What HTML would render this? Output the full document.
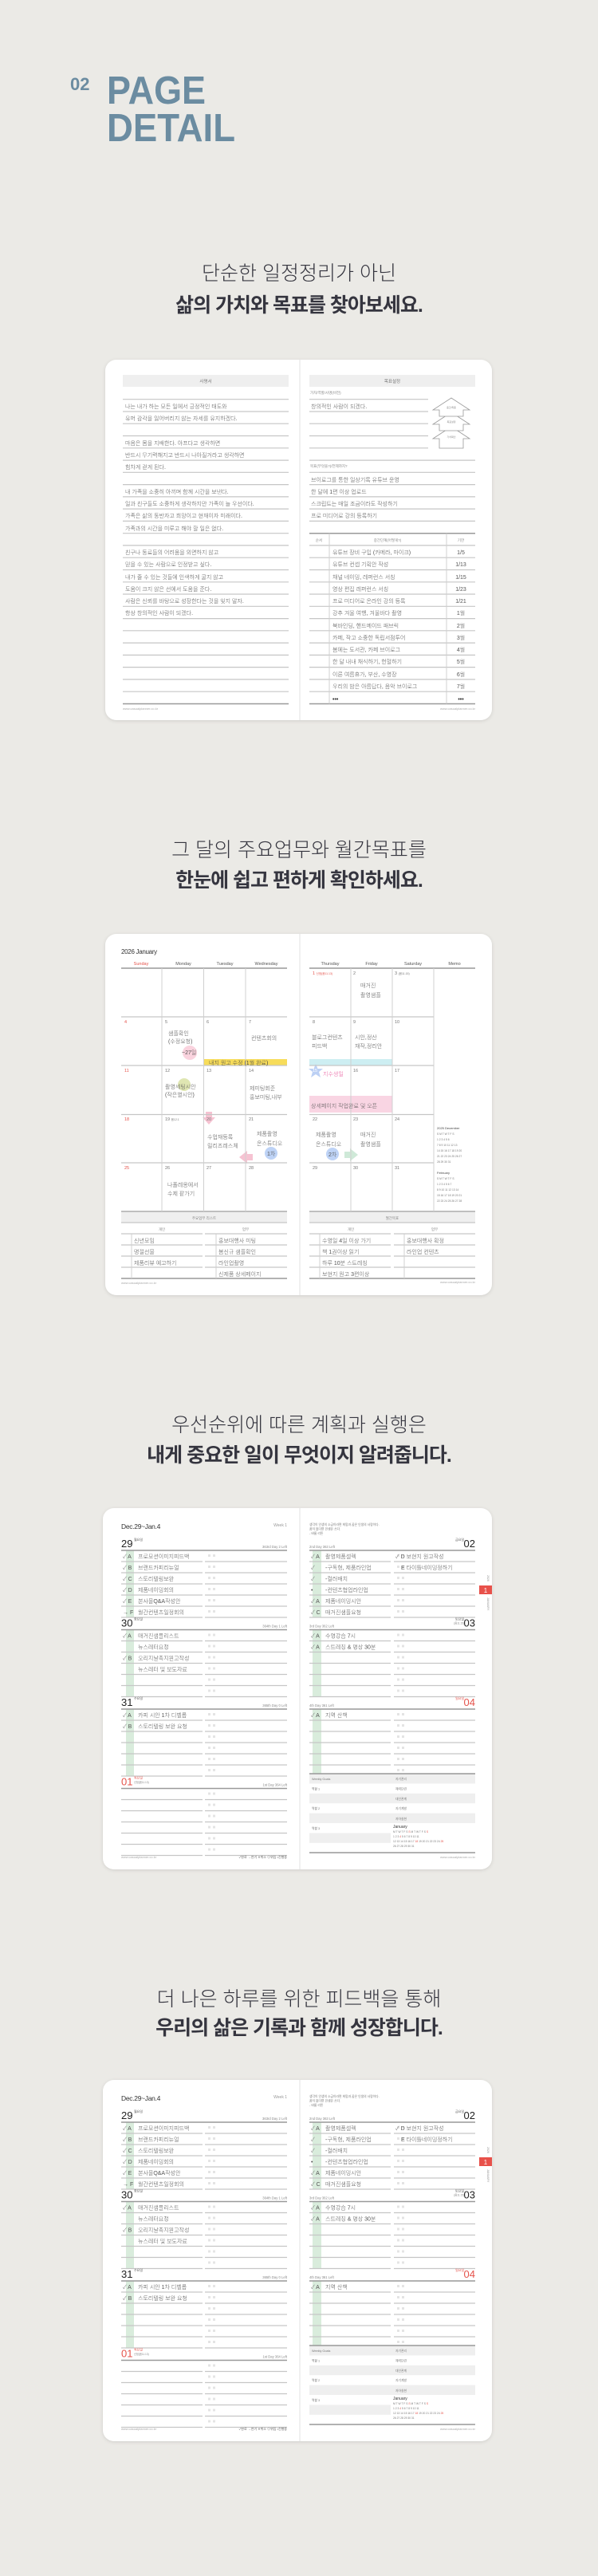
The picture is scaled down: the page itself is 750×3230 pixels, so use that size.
<!DOCTYPE html>
<html><head><meta charset="utf-8">
<style>
html,body{margin:0;padding:0;background:#ebeae6;}
svg{display:block}
text{font-family:"Liberation Sans","Noto Sans CJK KR",sans-serif;}
.hw{font-family:"Noto Sans CJK KR",sans-serif;font-size:7px;fill:#555;font-weight:300}
.s{font-size:4.5px;fill:#888}
.dn{font-size:5.5px;fill:#777}
.ln{stroke:#c6c6c6;stroke-width:1.2;fill:none}
.tk{stroke:#999;stroke-width:1.5;fill:none}
.vl{stroke:#d0d0d0;stroke-width:1;fill:none}
</style></head>
<body>
<svg width="750" height="3230" viewBox="0 0 750 3230" xmlns="http://www.w3.org/2000/svg">
<defs>
<filter id="sh" x="-5%" y="-5%" width="110%" height="110%"><feDropShadow dx="0" dy="1" stdDeviation="2" flood-color="#000" flood-opacity="0.12"/></filter>
<g id="rowsL">
<path class="tk" d="M152 0H360"/>
<path class="ln" d="M152 14H254M257 14H360M152 28H254M257 28H360M152 42H254M257 42H360M152 56H254M257 56H360M152 70H254M257 70H360M152 84H254M257 84H360"/>
<g fill="#e4e4e4"><rect x="261" y="5" width="3" height="3"/><rect x="267" y="5" width="3" height="3"/><rect x="261" y="19" width="3" height="3"/><rect x="267" y="19" width="3" height="3"/><rect x="261" y="33" width="3" height="3"/><rect x="267" y="33" width="3" height="3"/><rect x="261" y="47" width="3" height="3"/><rect x="267" y="47" width="3" height="3"/><rect x="261" y="61" width="3" height="3"/><rect x="267" y="61" width="3" height="3"/><rect x="261" y="75" width="3" height="3"/><rect x="267" y="75" width="3" height="3"/></g>
</g>
<g id="rowsR">
<path class="tk" d="M388 0H596"/>
<path class="ln" d="M388 14H490M494 14H596M388 28H490M494 28H596M388 42H490M494 42H596M388 56H490M494 56H596M388 70H490M494 70H596M388 84H490M494 84H596"/>
<g fill="#e4e4e4"><rect x="498" y="5" width="3" height="3"/><rect x="504" y="5" width="3" height="3"/><rect x="498" y="19" width="3" height="3"/><rect x="504" y="19" width="3" height="3"/><rect x="498" y="33" width="3" height="3"/><rect x="504" y="33" width="3" height="3"/><rect x="498" y="47" width="3" height="3"/><rect x="504" y="47" width="3" height="3"/><rect x="498" y="61" width="3" height="3"/><rect x="504" y="61" width="3" height="3"/><rect x="498" y="75" width="3" height="3"/><rect x="504" y="75" width="3" height="3"/></g>
</g>
</defs>
<rect width="750" height="3230" fill="#ebeae6"/>

<!-- Title -->
<text x="88" y="113" font-size="22" font-weight="700" fill="#6b8ca1">02</text>
<text x="134" y="130" font-size="49" font-weight="700" fill="#6b8ca1" textLength="124" lengthAdjust="spacingAndGlyphs">PAGE</text>
<text x="134" y="177" font-size="49" font-weight="700" fill="#6b8ca1" textLength="161" lengthAdjust="spacingAndGlyphs">DETAIL</text>

<!-- Headlines -->
<g text-anchor="middle" font-size="25" fill="#35353f">
<text x="375" y="351" font-weight="300">단순한 일정정리가 아닌</text>
<text x="375" y="391" font-weight="700" letter-spacing="-1">삶의 가치와 목표를 찾아보세요.</text>
<text x="375" y="1074" font-weight="300">그 달의 주요업무와 월간목표를</text>
<text x="375" y="1112" font-weight="700" letter-spacing="-1">한눈에 쉽고 편하게 확인하세요.</text>
<text x="375" y="1795" font-weight="300">우선순위에 따른 계획과 실행은</text>
<text x="375" y="1833" font-weight="700" letter-spacing="-1">내게 중요한 일이 무엇이지 알려줍니다.</text>
<text x="375" y="2515" font-weight="300">더 나은 하루를 위한 피드백을 통해</text>
<text x="375" y="2551" font-weight="700" letter-spacing="-1">우리의 삶은 기록과 함께 성장합니다.</text>
</g>

<!-- ================= CARD 1 ================= -->
<rect x="132" y="451" width="485" height="452" rx="14" fill="#fff" filter="url(#sh)"/>
<line x1="376" y1="451" x2="376" y2="903" stroke="#e2e2e2"/>
<rect x="154" y="470" width="208" height="15" fill="#efefef"/>
<text x="258" y="480" font-size="5.5" fill="#777" text-anchor="middle">사명서</text>
<path class="ln" d="M154 500.7H362M154 516H362M154 531.2H362M154 546.5H362M154 561.8H362M154 577.1H362M154 592.3H362M154 607.6H362M154 622.9H362M154 638.1H362M154 653.4H362M154 668.7H362M154 683.9H362M154 699.2H362M154 714.5H362M154 729.8H362M154 745H362M154 760.3H362M154 775.6H362M154 790.8H362M154 806.1H362M154 821.4H362M154 836.6H362M154 851.9H362M154 867.2H362"/>
<path class="tk" d="M154 882.5H362"/>
<g class="hw">
<text x="157" y="512">나는 내가 하는 모든 일에서 긍정적인 태도와</text>
<text x="157" y="527">유머 감각을 잃어버리지 않는 자세를 유지하겠다.</text>
<text x="157" y="558">마음은 몸을 지배한다. 아프다고 생각하면</text>
<text x="157" y="573">반드시 무기력해지고 반드시 나아질거라고 생각하면</text>
<text x="157" y="588">힘차게 걷게 된다.</text>
<text x="157" y="619">내 가족을 소중히 아끼며 함께 시간을 보낸다.</text>
<text x="157" y="634">일과 친구들도 소중하게 생각하지만 가족이 늘 우선이다.</text>
<text x="157" y="649">가족은 삶의 동반자고 희망이고 현재이자 미래이다.</text>
<text x="157" y="665">가족과의 시간을 미루고 해야 할 일은 없다.</text>
<text x="157" y="695">친구나 동료들의 어려움을 외면하지 않고</text>
<text x="157" y="710">믿을 수 있는 사람으로 인정받고 싶다.</text>
<text x="157" y="726">내가 줄 수 있는 것들에 인색하게 굴지 않고</text>
<text x="157" y="741">도움이 크지 않은 선에서 도움을 준다.</text>
<text x="157" y="756">사람은 신뢰를 바탕으로 성장한다는 것을 잊지 말자.</text>
<text x="157" y="771">항상 창의적인 사람이 되겠다.</text>
</g>
<text x="154" y="890" font-size="4" fill="#aaa">www.casualplanner.co.kr</text>

<rect x="388" y="470" width="208" height="15" fill="#efefef"/>
<text x="492" y="480" font-size="5.5" fill="#777" text-anchor="middle">목표설정</text>
<text x="389" y="494" class="s">가치/역할/사명(비전)</text>
<path class="ln" d="M388 500.7H537M388 516H537M388 531.2H537M388 546.5H537M388 561.8H537M388 577.1H596M388 592.3H596M388 607.6H596M388 622.9H596M388 638.1H596M388 653.4H596M388 683.9H596M388 699.2H596M388 714.5H596M388 729.8H596M388 745H596M388 760.3H596M388 775.6H596M388 790.8H596M388 806.1H596M388 821.4H596M388 836.6H596M388 851.9H596M388 867.2H596"/>
<path class="tk" d="M388 668.7H596M388 882.5H596"/>
<path class="vl" d="M413 668.7V882.5M560 668.7V882.5"/>
<g fill="#fff" stroke="#999" stroke-width="0.8">
<polygon points="566,535 589,550 581,550 581,562 551,562 551,550 543,550"/>
<polygon points="566,517 589,532 581,532 581,540 551,540 551,532 543,532"/>
<polygon points="566,499 589,514 581,514 581,522 551,522 551,514 543,514"/>
</g>
<g font-size="3" fill="#888" text-anchor="middle"><text x="566" y="512">중간/최종</text><text x="566" y="530">목표설정</text><text x="566" y="549">가치확인</text></g>
<text x="389" y="586" class="s">목표(무엇을?)/언제까지?</text>
<g class="hw">
<text x="390" y="512">창의적인 사람이 되겠다.</text>
<text x="390" y="604">브이로그를 통한 일상기록 유튜브 운영</text>
<text x="390" y="619">한 달에 1편 이상 업로드</text>
<text x="390" y="634">스크립트는 매일 조금이라도 작성하기</text>
<text x="390" y="649">프로 미디어로 강의 등록하기</text>
</g>
<g class="s" text-anchor="middle"><text x="400" y="679">순서</text><text x="486" y="679">중간단계(어떻게?)</text><text x="578" y="679">기한</text></g>
<g class="hw">
<text x="417" y="695">유튜브 장비 구입 (카메라, 마이크)</text>
<text x="417" y="710">유튜브 컨셉 기획안 작성</text>
<text x="417" y="726">채널 네이밍, 레퍼런스 서칭</text>
<text x="417" y="741">영상 편집 레퍼런스 서칭</text>
<text x="417" y="756">프로 미디어로 온라인 강의 등록</text>
<text x="417" y="771">강추 겨울 여행, 겨울바다 촬영</text>
<text x="417" y="787">북바인딩, 핸드메이드 패브릭</text>
<text x="417" y="802">카페, 작고 소중한 독립서점투어</text>
<text x="417" y="817">봄에는 도서관, 카페 브이로그</text>
<text x="417" y="832">한 달 내내 채식하기, 헌혈하기</text>
<text x="417" y="848">이른 여름휴가, 부산, 수영장</text>
<text x="417" y="863">우리의 밤은 아름답다, 음악 브이로그</text>
<text x="417" y="879" font-weight="700" fill="#333">•••</text>
</g>
<g class="hw" text-anchor="middle">
<text x="578" y="695">1/5</text><text x="578" y="710">1/13</text><text x="578" y="726">1/15</text><text x="578" y="741">1/23</text><text x="578" y="756">1/21</text><text x="578" y="771">1월</text><text x="578" y="787">2월</text><text x="578" y="802">3월</text><text x="578" y="817">4월</text><text x="578" y="832">5월</text><text x="578" y="848">6월</text><text x="578" y="863">7월</text><text x="578" y="879" font-weight="700" fill="#333">•••</text>
</g>
<text x="596" y="890" font-size="4" fill="#aaa" text-anchor="end">www.casualplanner.co.kr</text>

<!-- ================= CARD 2 ================= -->
<rect x="132" y="1171" width="485" height="453" rx="14" fill="#fff" filter="url(#sh)"/>
<line x1="376" y1="1171" x2="376" y2="1624" stroke="#e2e2e2"/>
<text x="152" y="1196" font-size="8" fill="#333" letter-spacing="-0.3">2026 January</text>
<g font-size="5.5" fill="#555" text-anchor="middle">
<text x="177" y="1210" fill="#e5534b">Sunday</text><text x="230" y="1210">Monday</text><text x="282" y="1210">Tuesday</text><text x="334" y="1210">Wednesday</text>
<text x="414" y="1210">Thursday</text><text x="466" y="1210">Friday</text><text x="518" y="1210">Saturday</text><text x="570" y="1210">Memo</text>
</g>
<!-- highlights -->
<rect x="255.5" y="1328" width="104.5" height="8" fill="#f7dc5a"/>
<rect x="388" y="1328" width="104" height="8" fill="#cdeef2"/>
<rect x="388" y="1374" width="104" height="21" fill="#f9d5e3"/>
<circle cx="238" cy="1320" r="9" fill="#fad3de"/>
<circle cx="231" cy="1360" r="8" fill="#dfe6b2"/>
<circle cx="340" cy="1446" r="8" fill="#bed3f6"/>
<circle cx="417" cy="1447" r="8" fill="#bed3f6"/>
<polygon points="258,1394 266,1394 266,1401 270,1401 262,1410 254,1401 258,1401" fill="#f6c3d2"/>
<polygon points="317,1447 310,1447 310,1443 300,1451 310,1459 310,1455 317,1455" fill="#f6c3d2"/>
<polygon points="432,1444 439,1444 439,1440 449,1448 439,1456 439,1452 432,1452" fill="#cfe9d8"/>
<polygon points="396,1334 398.5,1340 405,1340 400,1344 402,1351 396,1347 390,1351 392,1344 387,1340 393.5,1340" fill="#bcd0f4"/>
<path class="tk" d="M152 1214H360M388 1214H596"/>
<path class="ln" d="M152 1275H360M152 1336H360M152 1397.5H360M152 1458H360M388 1275H544M388 1336H544M388 1397.5H544M388 1458H544"/>
<path stroke="#999" stroke-width="1.2" d="M152 1519H360M388 1519H596"/>
<path class="vl" d="M203 1214V1519M255.5 1214V1519M308 1214V1519M440 1214V1519M492 1214V1519M544 1214V1519"/>
<g class="dn">
<text x="156" y="1283" fill="#e5534b">4</text><text x="207" y="1283">5</text><text x="259" y="1283">6</text><text x="312" y="1283">7</text>
<text x="156" y="1344" fill="#e5534b">11</text><text x="207" y="1344">12</text><text x="259" y="1344">13</text><text x="312" y="1344">14</text>
<text x="156" y="1405" fill="#e5534b">18</text><text x="207" y="1405">19 <tspan font-size="3.5">음12.1</tspan></text><text x="259" y="1405">20</text><text x="312" y="1405">21</text>
<text x="156" y="1466" fill="#e5534b">25</text><text x="207" y="1466">26</text><text x="259" y="1466">27</text><text x="312" y="1466">28</text>
<text x="392" y="1222" fill="#e5534b">1 <tspan font-size="3.5">신정(음11.13)</tspan></text><text x="443" y="1222">2</text><text x="495" y="1222">3 <tspan font-size="3.5">(음11.15)</tspan></text>
<text x="392" y="1283">8</text><text x="443" y="1283">9</text><text x="495" y="1283">10</text>
<text x="392" y="1344" fill="#fff">15</text><text x="443" y="1344">16</text><text x="495" y="1344">17</text>
<text x="392" y="1405">22</text><text x="443" y="1405">23</text><text x="495" y="1405">24</text>
<text x="392" y="1466">29</text><text x="443" y="1466">30</text><text x="495" y="1466">31</text>
</g>
<g class="hw" font-size="6.5">
<text x="211" y="1298">샘플확인</text><text x="211" y="1308">(수정요청)</text><text x="228" y="1322">~27일</text>
<text x="315" y="1304">컨텐츠회의</text>
<text x="262" y="1335" fill="#444">내지 원고 수정 (1월 완료)</text>
<text x="207" y="1365">촬영세팅시안</text><text x="207" y="1375">(작은별시안)</text>
<text x="313" y="1367">제미팅회준</text><text x="313" y="1378">홍보미팅,내부</text>
<text x="260" y="1428">수업재등록</text><text x="260" y="1439">릴리즈레스체</text>
<text x="322" y="1424">제품촬영</text><text x="322" y="1436">온스튜디오</text><text x="335" y="1449">1차</text>
<text x="210" y="1488">나폴레옹에서</text><text x="210" y="1499">수제 팥가기</text>
<text x="452" y="1238">매거진</text><text x="452" y="1250">촬영샘플</text>
<text x="391" y="1303">블로그컨텐츠</text><text x="391" y="1314">피드백</text>
<text x="445" y="1303">시안,정산</text><text x="445" y="1314">재작,정리안</text>
<text x="405" y="1349" fill="#e8559a">지수생일</text>
<text x="390" y="1389">상세페이지 작업완료 및 오픈</text>
<text x="396" y="1425">제품촬영</text><text x="396" y="1437">온스튜디오</text><text x="412" y="1450">2차</text>
<text x="452" y="1425">매거진</text><text x="452" y="1437">촬영샘플</text>
</g>
<g font-size="3.3" fill="#777">
<text x="548" y="1416" font-size="4" fill="#444">2025 December</text>
<text x="548" y="1423">S  M  T  W  T  F  S</text>
<text x="548" y="1430">      1  2  3  4  5  6</text>
<text x="548" y="1437">7  8  9 10 11 12 13</text>
<text x="548" y="1444">14 15 16 17 18 19 20</text>
<text x="548" y="1451">21 22 23 24 25 26 27</text>
<text x="548" y="1458">28 29 30 31</text>
<text x="548" y="1472" font-size="4" fill="#444">February</text>
<text x="548" y="1479">S  M  T  W  T  F  S</text>
<text x="548" y="1486">1  2  3  4  5  6  7</text>
<text x="548" y="1493">8  9 10 11 12 13 14</text>
<text x="548" y="1500">15 16 17 18 19 20 21</text>
<text x="548" y="1507">22 23 24 25 26 27 28</text>
</g>
<rect x="152" y="1520" width="208" height="13" fill="#efefef"/>
<rect x="388" y="1520" width="208" height="13" fill="#efefef"/>
<g class="s" text-anchor="middle">
<text x="256" y="1529">주요업무 리스트</text><text x="203" y="1543">개인</text><text x="308" y="1543">업무</text>
<text x="492" y="1529">월간목표</text><text x="440" y="1543">개인</text><text x="545" y="1543">업무</text>
</g>
<path class="ln" d="M152 1533H360M152 1547H254M257 1547H360M152 1561H254M257 1561H360M152 1575H254M257 1575H360M152 1589H254M257 1589H360M388 1533H596M388 1547H490M494 1547H596M388 1561H490M494 1561H596M388 1575H490M494 1575H596M388 1589H490M494 1589H596"/>
<path class="tk" d="M152 1603H360M388 1603H596"/>
<path class="vl" d="M165 1547V1603M271 1547V1603M401 1547V1603M507 1547V1603"/>
<g class="hw">
<text x="168" y="1558">신년모임</text><text x="168" y="1572">명절선물</text><text x="168" y="1586">제품리뷰 예고하기</text>
<text x="274" y="1558">홍보대행사 미팅</text><text x="274" y="1572">봄신규 샘플확인</text><text x="274" y="1586">라인업촬영</text><text x="274" y="1600">신제품 상세페이지</text>
<text x="404" y="1558">수영일 4일 이상 가기</text><text x="404" y="1572">책 1권이상 읽기</text><text x="404" y="1586">하루 10분 스트레칭</text><text x="404" y="1600">보현지 원고 3편이상</text>
<text x="510" y="1558">홍보대행사 확정</text><text x="510" y="1572">라인업 컨텐츠</text>
</g>
<text x="152" y="1610" font-size="4" fill="#aaa">www.casualplanner.co.kr</text>
<text x="596" y="1609" font-size="4" fill="#aaa" text-anchor="end">www.casualplanner.co.kr</text>

<!-- ================= CARD 3 & 4 (weekly) ================= -->
<g id="wk3">
<rect x="129" y="1891" width="488" height="453" rx="14" fill="#fff" filter="url(#sh)"/>
<line x1="376" y1="1891" x2="376" y2="2344" stroke="#e2e2e2"/>
<rect x="158" y="1944" width="10" height="84" fill="#d9ecdc"/>
<rect x="158" y="2043.5" width="10" height="84" fill="#d9ecdc"/>
<rect x="158" y="2143" width="10" height="84" fill="#d9ecdc"/>
<rect x="392" y="1944" width="11" height="84" fill="#d9ecdc"/>
<rect x="392" y="2043.5" width="11" height="84" fill="#d9ecdc"/>
<rect x="392" y="2143" width="11" height="84" fill="#d9ecdc"/>
<use href="#rowsL" y="1944"/><use href="#rowsL" y="2043.5"/><use href="#rowsL" y="2143"/><use href="#rowsL" y="2242.5"/>
<use href="#rowsR" y="1944"/><use href="#rowsR" y="2043.5"/><use href="#rowsR" y="2143"/>
<text x="152" y="1917" font-size="8.5" fill="#333" letter-spacing="-0.3">Dec.29~Jan.4</text>
<text x="360" y="1914" font-size="5" fill="#999" text-anchor="end">Week 1</text>
<g font-size="13" fill="#222">
<text x="152" y="1940">29</text><text x="152" y="2039.5">30</text><text x="152" y="2139">31</text><text x="152" y="2238.5" fill="#e5534b">01</text>
<text x="596" y="1940" text-anchor="end">02</text><text x="596" y="2039.5" text-anchor="end">03</text><text x="596" y="2139" text-anchor="end" fill="#e5534b">04</text>
</g>
<g font-size="4" fill="#555">
<text x="168" y="1932">월요일</text><text x="168" y="2031.5">화요일</text><text x="168" y="2131">수요일</text><text x="168" y="2230.5" fill="#e5534b">목요일</text><text x="168" y="2236" font-size="3.2" fill="#888">신정(음11.13)</text>
<text x="582" y="1932" text-anchor="end">금요일</text><text x="582" y="2031.5" text-anchor="end">토요일</text><text x="582" y="2036.5" text-anchor="end" font-size="3.2" fill="#888">(음11.15)</text><text x="582" y="2131" text-anchor="end" fill="#e5534b">일요일</text>
</g>
<g font-size="4.2" fill="#888">
<text x="360" y="1941" text-anchor="end">363rd Day 2 Left</text><text x="360" y="2040.5" text-anchor="end">364th Day 1 Left</text><text x="360" y="2140" text-anchor="end">365th Day 0 Left</text><text x="360" y="2239.5" text-anchor="end">1st Day 364 Left</text>
<text x="388" y="1941">2nd Day 363 Left</text><text x="388" y="2040.5">3rd Day 362 Left</text><text x="388" y="2140">4th Day 361 Left</text>
</g>
<g font-size="3.8" fill="#777">
<text x="388" y="1913">생각이 인생의 소금이라면 희망과 꿈은 인생의 사랑이다.</text>
<text x="388" y="1918.5">꿈이 없다면 인생은 쓰다.</text>
<text x="388" y="1924">- 바룸 리튼</text>
</g>
<g class="hw" font-size="6.8">
<text x="154" y="1954">✓ A</text><text x="173" y="1954">프로모션이미지피드백</text>
<text x="154" y="1968">✓ B</text><text x="173" y="1968">브랜드카피리뉴얼</text>
<text x="154" y="1982">✓ C</text><text x="173" y="1982">스토리텔링보완</text>
<text x="154" y="1996">✓ D</text><text x="173" y="1996">제품네이밍회의</text>
<text x="154" y="2010">✓ E</text><text x="173" y="2010">본사몰Q&amp;A작성안</text>
<text x="154" y="2024">→ F</text><text x="173" y="2024">월간컨텐츠일정회의</text>
<text x="154" y="2053.5">✓ A</text><text x="173" y="2053.5">매거진샘플리스트</text>
<text x="173" y="2067.5">뉴스레터요청</text>
<text x="154" y="2081.5">✓ B</text><text x="173" y="2081.5">오리지날촉지원고작성</text>
<text x="173" y="2095.5">뉴스레터 및 보도자료</text>
<text x="154" y="2153">✓ A</text><text x="173" y="2153">카피 시안 1차 디벨롭</text>
<text x="154" y="2167">✓ B</text><text x="173" y="2167">스토리텔링 보완 요청</text>
<text x="390" y="1954">✓ A</text><text x="408" y="1954">촬영제품셀렉</text>
<text x="390" y="1968">✓</text><text x="408" y="1968">-구독형, 제품라인업</text>
<text x="390" y="1982">✓</text><text x="408" y="1982">-컬러배치</text>
<text x="390" y="1996">•</text><text x="408" y="1996">-컨텐츠협업라인업</text>
<text x="390" y="2010">✓ A</text><text x="408" y="2010">제품네이밍시안</text>
<text x="390" y="2024">✓ C</text><text x="408" y="2024">매거진샘플요청</text>
<text x="496" y="1954">✓ D 보현지 원고작성</text>
<text x="503" y="1968">E 타이틀네이밍정하기</text>
<text x="390" y="2053.5">✓ A</text><text x="408" y="2053.5">수영강습 7시</text>
<text x="390" y="2067.5">✓ A</text><text x="408" y="2067.5">스트레칭 &amp; 명상 30분</text>
<text x="390" y="2153">✓ A</text><text x="408" y="2153">지역 산책</text>
</g>
<!-- weekly goals -->
<rect x="388" y="2224" width="208" height="12.4" fill="#efefef"/>
<rect x="388" y="2248.8" width="208" height="12.4" fill="#efefef"/>
<rect x="388" y="2273.6" width="208" height="12.4" fill="#efefef"/>
<rect x="388" y="2298.4" width="102" height="12.4" fill="#efefef"/>
<path class="tk" d="M388 2224H596M388 2323H596"/>
<g font-size="3.8" fill="#777">
<text x="391" y="2232">Weekly Goals</text><text x="391" y="2244.5">역할 1</text><text x="391" y="2269">역할 2</text><text x="391" y="2294">역할 3</text>
<text x="496" y="2232">자기관리</text><text x="496" y="2244.5">체력단련</text><text x="496" y="2257">대인관계</text><text x="496" y="2269">자기계발</text><text x="496" y="2282">자아실현</text>
</g>
<text x="493" y="2292" font-size="5" fill="#333">January</text>
<g font-size="3.3" fill="#777">
<text x="493" y="2298">M  T  W  T  F  S  <tspan fill="#e5534b">S</tspan>  M  T  W  T  F  S  <tspan fill="#e5534b">S</tspan></text>
<text x="493" y="2304">               1  2  3  <tspan fill="#e5534b">4</tspan>  5  6  7  8  9 10 11</text>
<text x="493" y="2310">12 13 14 15 16 17 <tspan fill="#e5534b">18</tspan> 19 20 21 22 23 24 <tspan fill="#e5534b">25</tspan></text>
<text x="493" y="2316">26 27 28 29 30 31</text>
</g>
<rect x="601" y="1988" width="16" height="11" fill="#e8514a"/>
<text x="609" y="1997" font-size="8" fill="#fff" text-anchor="middle">1</text>
<text transform="translate(611,1975) rotate(90)" font-size="3.5" fill="#999">2026</text>
<text transform="translate(611,2003) rotate(90)" font-size="3.5" fill="#999">JANUARY</text>
<text x="152" y="2330" font-size="4" fill="#aaa">www.casualplanner.co.kr</text>
<text x="360" y="2330" font-size="4" fill="#666" text-anchor="end">✓완료 →연기 ✕취소 ⊙위임 •진행중</text>
<text x="596" y="2330" font-size="4" fill="#aaa" text-anchor="end">www.casualplanner.co.kr</text>
</g>

<g transform="translate(0,717)">
<rect x="129" y="1891" width="488" height="453" rx="14" fill="#fff" filter="url(#sh)"/>
<line x1="376" y1="1891" x2="376" y2="2344" stroke="#e2e2e2"/>
<rect x="158" y="1944" width="10" height="84" fill="#d9ecdc"/>
<rect x="158" y="2043.5" width="10" height="84" fill="#d9ecdc"/>
<rect x="158" y="2143" width="10" height="84" fill="#d9ecdc"/>
<rect x="392" y="1944" width="11" height="84" fill="#d9ecdc"/>
<rect x="392" y="2043.5" width="11" height="84" fill="#d9ecdc"/>
<rect x="392" y="2143" width="11" height="84" fill="#d9ecdc"/>
<use href="#rowsL" y="1944"/><use href="#rowsL" y="2043.5"/><use href="#rowsL" y="2143"/><use href="#rowsL" y="2242.5"/>
<use href="#rowsR" y="1944"/><use href="#rowsR" y="2043.5"/><use href="#rowsR" y="2143"/>
<text x="152" y="1917" font-size="8.5" fill="#333" letter-spacing="-0.3">Dec.29~Jan.4</text>
<text x="360" y="1914" font-size="5" fill="#999" text-anchor="end">Week 1</text>
<g font-size="13" fill="#222">
<text x="152" y="1940">29</text><text x="152" y="2039.5">30</text><text x="152" y="2139">31</text><text x="152" y="2238.5" fill="#e5534b">01</text>
<text x="596" y="1940" text-anchor="end">02</text><text x="596" y="2039.5" text-anchor="end">03</text><text x="596" y="2139" text-anchor="end" fill="#e5534b">04</text>
</g>
<g font-size="4" fill="#555">
<text x="168" y="1932">월요일</text><text x="168" y="2031.5">화요일</text><text x="168" y="2131">수요일</text><text x="168" y="2230.5" fill="#e5534b">목요일</text><text x="168" y="2236" font-size="3.2" fill="#888">신정(음11.13)</text>
<text x="582" y="1932" text-anchor="end">금요일</text><text x="582" y="2031.5" text-anchor="end">토요일</text><text x="582" y="2036.5" text-anchor="end" font-size="3.2" fill="#888">(음11.15)</text><text x="582" y="2131" text-anchor="end" fill="#e5534b">일요일</text>
</g>
<g font-size="4.2" fill="#888">
<text x="360" y="1941" text-anchor="end">363rd Day 2 Left</text><text x="360" y="2040.5" text-anchor="end">364th Day 1 Left</text><text x="360" y="2140" text-anchor="end">365th Day 0 Left</text><text x="360" y="2239.5" text-anchor="end">1st Day 364 Left</text>
<text x="388" y="1941">2nd Day 363 Left</text><text x="388" y="2040.5">3rd Day 362 Left</text><text x="388" y="2140">4th Day 361 Left</text>
</g>
<g font-size="3.8" fill="#777">
<text x="388" y="1913">생각이 인생의 소금이라면 희망과 꿈은 인생의 사랑이다.</text>
<text x="388" y="1918.5">꿈이 없다면 인생은 쓰다.</text>
<text x="388" y="1924">- 바룸 리튼</text>
</g>
<g class="hw" font-size="6.8">
<text x="154" y="1954">✓ A</text><text x="173" y="1954">프로모션이미지피드백</text>
<text x="154" y="1968">✓ B</text><text x="173" y="1968">브랜드카피리뉴얼</text>
<text x="154" y="1982">✓ C</text><text x="173" y="1982">스토리텔링보완</text>
<text x="154" y="1996">✓ D</text><text x="173" y="1996">제품네이밍회의</text>
<text x="154" y="2010">✓ E</text><text x="173" y="2010">본사몰Q&amp;A작성안</text>
<text x="154" y="2024">→ F</text><text x="173" y="2024">월간컨텐츠일정회의</text>
<text x="154" y="2053.5">✓ A</text><text x="173" y="2053.5">매거진샘플리스트</text>
<text x="173" y="2067.5">뉴스레터요청</text>
<text x="154" y="2081.5">✓ B</text><text x="173" y="2081.5">오리지날촉지원고작성</text>
<text x="173" y="2095.5">뉴스레터 및 보도자료</text>
<text x="154" y="2153">✓ A</text><text x="173" y="2153">카피 시안 1차 디벨롭</text>
<text x="154" y="2167">✓ B</text><text x="173" y="2167">스토리텔링 보완 요청</text>
<text x="390" y="1954">✓ A</text><text x="408" y="1954">촬영제품셀렉</text>
<text x="390" y="1968">✓</text><text x="408" y="1968">-구독형, 제품라인업</text>
<text x="390" y="1982">✓</text><text x="408" y="1982">-컬러배치</text>
<text x="390" y="1996">•</text><text x="408" y="1996">-컨텐츠협업라인업</text>
<text x="390" y="2010">✓ A</text><text x="408" y="2010">제품네이밍시안</text>
<text x="390" y="2024">✓ C</text><text x="408" y="2024">매거진샘플요청</text>
<text x="496" y="1954">✓ D 보현지 원고작성</text>
<text x="503" y="1968">E 타이틀네이밍정하기</text>
<text x="390" y="2053.5">✓ A</text><text x="408" y="2053.5">수영강습 7시</text>
<text x="390" y="2067.5">✓ A</text><text x="408" y="2067.5">스트레칭 &amp; 명상 30분</text>
<text x="390" y="2153">✓ A</text><text x="408" y="2153">지역 산책</text>
</g>
<rect x="388" y="2224" width="208" height="12.4" fill="#efefef"/>
<rect x="388" y="2248.8" width="208" height="12.4" fill="#efefef"/>
<rect x="388" y="2273.6" width="208" height="12.4" fill="#efefef"/>
<rect x="388" y="2298.4" width="102" height="12.4" fill="#efefef"/>
<path class="tk" d="M388 2224H596M388 2323H596"/>
<g font-size="3.8" fill="#777">
<text x="391" y="2232">Weekly Goals</text><text x="391" y="2244.5">역할 1</text><text x="391" y="2269">역할 2</text><text x="391" y="2294">역할 3</text>
<text x="496" y="2232">자기관리</text><text x="496" y="2244.5">체력단련</text><text x="496" y="2257">대인관계</text><text x="496" y="2269">자기계발</text><text x="496" y="2282">자아실현</text>
</g>
<text x="493" y="2292" font-size="5" fill="#333">January</text>
<g font-size="3.3" fill="#777">
<text x="493" y="2298">M  T  W  T  F  S  <tspan fill="#e5534b">S</tspan>  M  T  W  T  F  S  <tspan fill="#e5534b">S</tspan></text>
<text x="493" y="2304">               1  2  3  <tspan fill="#e5534b">4</tspan>  5  6  7  8  9 10 11</text>
<text x="493" y="2310">12 13 14 15 16 17 <tspan fill="#e5534b">18</tspan> 19 20 21 22 23 24 <tspan fill="#e5534b">25</tspan></text>
<text x="493" y="2316">26 27 28 29 30 31</text>
</g>
<rect x="601" y="1988" width="16" height="11" fill="#e8514a"/>
<text x="609" y="1997" font-size="8" fill="#fff" text-anchor="middle">1</text>
<text transform="translate(611,1975) rotate(90)" font-size="3.5" fill="#999">2026</text>
<text transform="translate(611,2003) rotate(90)" font-size="3.5" fill="#999">JANUARY</text>
<text x="152" y="2330" font-size="4" fill="#aaa">www.casualplanner.co.kr</text>
<text x="360" y="2330" font-size="4" fill="#666" text-anchor="end">✓완료 →연기 ✕취소 ⊙위임 •진행중</text>
<text x="596" y="2330" font-size="4" fill="#aaa" text-anchor="end">www.casualplanner.co.kr</text>
</g>
</svg>
</body></html>
